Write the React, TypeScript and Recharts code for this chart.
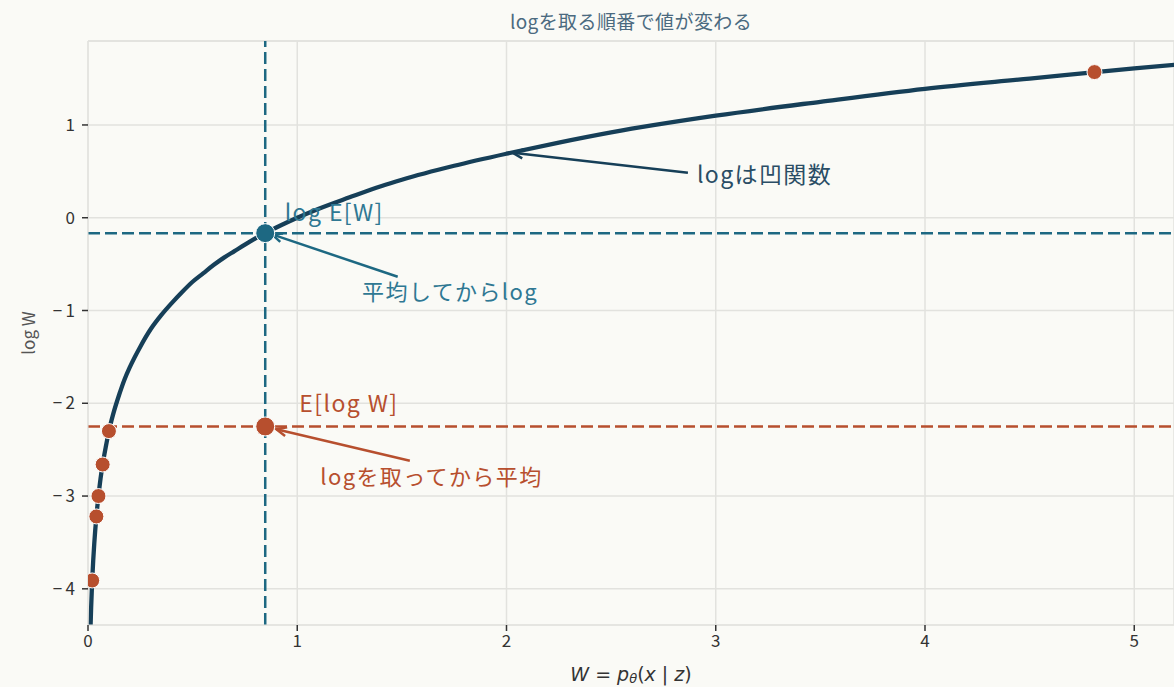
import React from 'react';
import {
  ComposedChart,
  Line,
  Scatter,
  XAxis,
  YAxis,
  CartesianGrid,
  ReferenceLine,
  ReferenceDot,
} from 'recharts';

document.body.style.margin = '0';

// log W curve
const curveW = [0.0124, 0.015, 0.02, 0.025, 0.03, 0.04, 0.05, 0.06, 0.07, 0.085, 0.1, 0.12, 0.15, 0.175, 0.2, 0.25, 0.3, 0.35, 0.4, 0.45, 0.5, 0.55, 0.6, 0.65, 0.7, 0.75, 0.85, 0.9, 1.0, 1.1, 1.25, 1.4, 1.5, 1.75, 2.0, 2.25, 2.5, 3.0, 3.5, 4.0, 4.5, 5.0, 5.2];
const curveLogW = [-4.39, -4.2, -3.91, -3.69, -3.51, -3.22, -3.0, -2.81, -2.66, -2.47, -2.3, -2.12, -1.9, -1.74, -1.61, -1.39, -1.2, -1.05, -0.92, -0.8, -0.69, -0.6, -0.51, -0.43, -0.36, -0.29, -0.16, -0.105, 0, 0.095, 0.22, 0.34, 0.41, 0.56, 0.69, 0.81, 0.92, 1.1, 1.25, 1.39, 1.5, 1.61, 1.65];

// sampled W and log W (orange dots)
const sampleW = [0.02, 0.04, 0.05, 0.07, 0.1, 4.81];
const sampleLogW = [-3.91, -3.22, -3.0, -2.66, -2.3, 1.57];

const meanW = 0.847;
const logMeanW = -0.166;
const meanLogW = -2.25;

const xTicks = [0, 1, 2, 3, 4, 5];
const yTicks = [-4, -3, -2, -1, 0, 1];

const curve = curveW.map((x, i) => ({ x, y: curveLogW[i] }));
const samples = sampleW.map((x, i) => ({ x, y: sampleLogW[i] }));

const BG = '#fafaf6';
const NAVY = '#163f58';
const TEAL = '#1d6882';
const TEAL_TXT = '#2f7893';
const ORANGE = '#b74f2e';
const GRID = '#e2e2de';
const FONT = '"Noto Sans CJK JP", "Noto Sans", sans-serif';

const fmt = (v: number) => (v < 0 ? `\u2212\u2009${-v}` : `${v}`);

const arrow = (color: string) => (p: any) => {
  const { x1, y1, x2, y2 } = p;
  const a = Math.atan2(y2 - y1, x2 - x1);
  const h = 11;
  const s = 0.42;
  const ax = x2 - h * Math.cos(a - s);
  const ay = y2 - h * Math.sin(a - s);
  const bx = x2 - h * Math.cos(a + s);
  const by = y2 - h * Math.sin(a + s);
  return (
    <g>
      <line x1={x1} y1={y1} x2={x2} y2={y2} stroke={color} strokeWidth={2.5} />
      <polyline points={`${ax},${ay} ${x2},${y2} ${bx},${by}`} fill="none" stroke={color} strokeWidth={2.5} />
    </g>
  );
};

const note = (text: string, color: string, size: number) => (p: any) => (
  <text
    x={p.cx}
    y={p.cy}
    fill={color}
    fontSize={size}
    fontFamily={FONT}
    letterSpacing={1.4}
    dominantBaseline="middle"
  >
    {text}
  </text>
);

const Dot = (r: number, color: string) => (p: any) => (
  <circle cx={p.cx} cy={p.cy} r={r} fill={color} stroke="#ffffff" strokeWidth={1} />
);

export default function App() {
  return (
    <div style={{ position: 'relative', width: 1174, height: 687, background: BG, fontFamily: FONT }}>
      <div
        style={{
          position: 'absolute',
          top: 8,
          left: 88,
          width: 1086,
          textAlign: 'center',
          fontSize: 19,
          letterSpacing: 0.4,
          color: '#4b6a80',
          lineHeight: '26px',
        }}
      >
        logを取る順番で値が変わる
      </div>
      <ComposedChart width={1174} height={687} margin={{ top: 41, right: 0, bottom: 0, left: 0 }}>
        <CartesianGrid stroke={GRID} strokeWidth={1.5} />
        <XAxis
          dataKey="x"
          type="number"
          domain={[0, 5.19]}
          ticks={xTicks}
          allowDataOverflow
          height={62}
          stroke={GRID}
          tickSize={6}
          tickMargin={4}
          tickLine={{ stroke: '#333', strokeWidth: 1.5 }}
          tick={{ fill: '#333', fontSize: 17, fontFamily: FONT }}
          label={{
            content: ({ viewBox }: any) => (
              <text
                x={viewBox.x + viewBox.width / 2}
                y={viewBox.y + 50}
                textAnchor="middle"
                dominantBaseline="middle"
                fill="#333"
                fontSize={19}
                fontFamily="DejaVu Sans"
              >
                <tspan fontStyle="italic">W</tspan>
                <tspan> = </tspan>
                <tspan fontStyle="italic">p</tspan>
                <tspan fontStyle="italic" fontSize={13} dy={4}>θ</tspan>
                <tspan dy={-4}>(</tspan>
                <tspan fontStyle="italic">x</tspan>
                <tspan> | </tspan>
                <tspan fontStyle="italic">z</tspan>
                <tspan>)</tspan>
              </text>
            ),
          }}
        />
        <YAxis
          type="number"
          domain={[-4.39, 1.905]}
          ticks={yTicks}
          allowDataOverflow
          width={88}
          stroke={GRID}
          tickSize={6}
          tickMargin={7}
          tickLine={{ stroke: '#333', strokeWidth: 1.5 }}
          tickFormatter={fmt}
          tick={{ fill: '#333', fontSize: 17, fontFamily: FONT }}
          label={{
            content: ({ viewBox }: any) => (
              <text
                x={30}
                y={viewBox.y + viewBox.height / 2}
                transform={`rotate(-90 30 ${viewBox.y + viewBox.height / 2})`}
                textAnchor="middle"
                dominantBaseline="middle"
                fill="#555"
                fontSize={17}
                fontFamily={FONT}
              >
                log W
              </text>
            ),
          }}
        />
        <ReferenceLine y={1.905} stroke={GRID} strokeWidth={1.5} />

        <ReferenceLine x={meanW} stroke={TEAL} strokeWidth={2.5} strokeDasharray="12 5" />
        <ReferenceLine y={logMeanW} stroke={TEAL} strokeWidth={2.5} strokeDasharray="12 5" />
        <ReferenceLine y={meanLogW} stroke={ORANGE} strokeWidth={2.5} strokeDasharray="12 5" />

        <Line
          data={curve}
          dataKey="y"
          type="monotone"
          stroke={NAVY}
          strokeWidth={4.3}
          dot={false}
          isAnimationActive={false}
        />
        <Scatter data={samples} dataKey="y" fill={ORANGE} shape={Dot(7.5, ORANGE)} isAnimationActive={false} />
        <Scatter data={[{ x: meanW, y: logMeanW }]} dataKey="y" shape={Dot(9.5, TEAL)} isAnimationActive={false} />
        <Scatter data={[{ x: meanW, y: meanLogW }]} dataKey="y" shape={Dot(9.5, ORANGE)} isAnimationActive={false} />

        <ReferenceLine segment={[{ x: 1.48, y: -0.636 }, { x: 0.88, y: -0.18 }]} shape={arrow(TEAL)} />
        <ReferenceLine segment={[{ x: 1.538, y: -2.62 }, { x: 0.9, y: -2.28 }]} shape={arrow(ORANGE)} />
        <ReferenceLine segment={[{ x: 2.867, y: 0.485 }, { x: 2.03, y: 0.7 }]} shape={arrow(NAVY)} />

        <ReferenceDot x={0.94} y={0.03} r={0} shape={note('log E[W]', TEAL_TXT, 23)} />
        <ReferenceDot x={1.31} y={-0.82} r={0} shape={note('平均してからlog', TEAL_TXT, 22)} />
        <ReferenceDot x={1.01} y={-2.03} r={0} shape={note('E[log W]', ORANGE, 23)} />
        <ReferenceDot x={1.11} y={-2.82} r={0} shape={note('logを取ってから平均', ORANGE, 22)} />
        <ReferenceDot x={2.91} y={0.445} r={0} shape={note('logは凹関数', '#2a4d65', 23)} />
      </ComposedChart>
    </div>
  );
}
